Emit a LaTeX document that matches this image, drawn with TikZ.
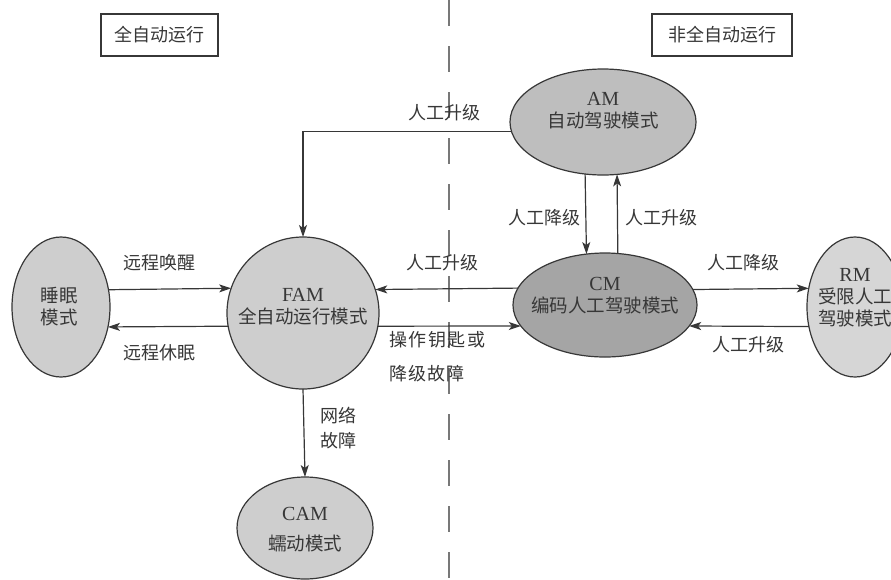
\documentclass[tikz,border=0pt]{standalone}
\usepackage{fontspec}
\setmainfont{Liberation Serif}
\newfontfamily\cjk{Noto Sans CJK SC}
\usetikzlibrary{arrows.meta,shapes.geometric}
\definecolor{ink}{RGB}{55,55,55}
\definecolor{fillA}{RGB}{206,206,206}
\definecolor{fillAM}{RGB}{190,190,190}
\definecolor{fillCM}{RGB}{165,165,165}
\definecolor{fillRM}{RGB}{214,214,214}
\definecolor{dashc}{RGB}{120,120,120}
\newcommand\latn[1]{{\rmfamily\fontsize{20}{22}\selectfont #1}}
\begin{document}
\begin{tikzpicture}[x=1pt,y=-1pt,
  mode/.style={ellipse, draw=ink, line width=1.2pt, inner sep=0pt, outer sep=0pt},
  txt/.style={text=ink, font=\cjk\fontsize{18.5}{22}\selectfont, align=center, inner sep=0pt},
  lbl/.style={text=ink, font=\cjk\fontsize{18}{22}\selectfont, inner sep=0pt},
  arr/.style={draw=ink, line width=1.2pt, -{Stealth[length=12pt,width=8pt,inset=3pt]}},
  tagbox/.style={draw=ink, line width=1.2pt, inner sep=0pt, minimum height=42pt, text=ink, font=\cjk\fontsize{18}{20}\selectfont}
]
\useasboundingbox (0,0) rectangle (891,579);
\clip (0,0) rectangle (891,579);

% divider
\coordinate (dtop) at (449,0);
\coordinate (dbot) at (449,579);
\draw[dashc, line width=1.5pt, dash pattern=on 26pt off 20pt] (dtop) -- (dbot);

% region tags
\node[tagbox, minimum width=117pt] (tagL) at (159.5,35) {全自动运行};
\node[tagbox, minimum width=140pt] (tagR) at (722,35) {非全自动运行};

% modes
\node[mode, fill=fillA, minimum width=98pt, minimum height=140pt] (sleep) at (61,307) {};
\node[txt] (sleept) at (59,307) {睡眠\\模式};

\node[circle, draw=ink, line width=1.2pt, inner sep=0pt, outer sep=0pt, fill=fillA, minimum size=152pt] (FAM) at (303,313) {};
\node[txt] (FAMt) at (303,307) {\latn{FAM}\\全自动运行模式};

\node[mode, fill=fillAM, minimum width=186pt, minimum height=106pt] (AM) at (603,122) {};
\node[txt] (AMt) at (603,111) {\latn{AM}\\自动驾驶模式};

\node[mode, fill=fillCM, minimum width=184pt, minimum height=104pt] (CM) at (605,305) {};
\node[txt] (CMt) at (605,296) {\latn{CM}\\编码人工驾驶模式};

\node[mode, fill=fillRM, minimum width=96pt, minimum height=140pt] (RM) at (855,307) {};
\node[txt] (RMt) at (855,298) {\latn{RM}\\受限人工\\驾驶模式};

\node[mode, fill=fillA, minimum width=136pt, minimum height=102pt] (CAM) at (305,528) {};
\node[txt, font=\cjk\fontsize{18.5}{30}\selectfont] (CAMt) at (305,530) {\latn{CAM}\\蠕动模式};

% horizontal connectors
\draw[arr] (sleep.20.8) -- (FAM.161.6);
\draw[arr] (FAM.190.6) -- (sleep.-23.1);
\draw[arr] (CM.169.64) -- (FAM.18.4);
\draw[arr] (FAM.-10.6) -- (CM.194.8);
\draw[arr] (CM.10.36) -- (RM.158.8);
\draw[arr] (RM.203.5) -- (CM.-14.8);

% vertical connectors
\draw[arr] (AM.251.9) -- (CM.110.5);
\draw[arr] (CM.76.9) -- (AM.-75.0);
\draw[arr] (AM.186.25) -| (FAM.north);
\draw[arr] (FAM.south) -- (CAM.north);

% labels
\node[lbl] (l1) at (159,263) {远程唤醒};
\node[lbl] (l2) at (159,353) {远程休眠};
\node[lbl] (l3) at (442,263) {人工升级};
\node[lbl, anchor=west] (l4) at (389,340) {操\hspace{1.5pt}作\hspace{1.5pt}钥\hspace{1.5pt}匙\hspace{1.5pt}或};
\node[lbl, anchor=west] (l5) at (389,374) {降\hspace{1pt}级\hspace{1pt}故\hspace{1pt}障};
\node[lbl] (l6) at (743,263) {人工降级};
\node[lbl] (l7) at (748,345) {人工升级};
\node[lbl] (l8) at (544,218) {人工降级};
\node[lbl] (l9) at (661,218) {人工升级};
\node[lbl] (l10) at (444,113) {人工升级};
\node[lbl] (l11) at (338,416) {网络};
\node[lbl] (l12) at (338,441) {故障};
\end{tikzpicture}
\end{document}
